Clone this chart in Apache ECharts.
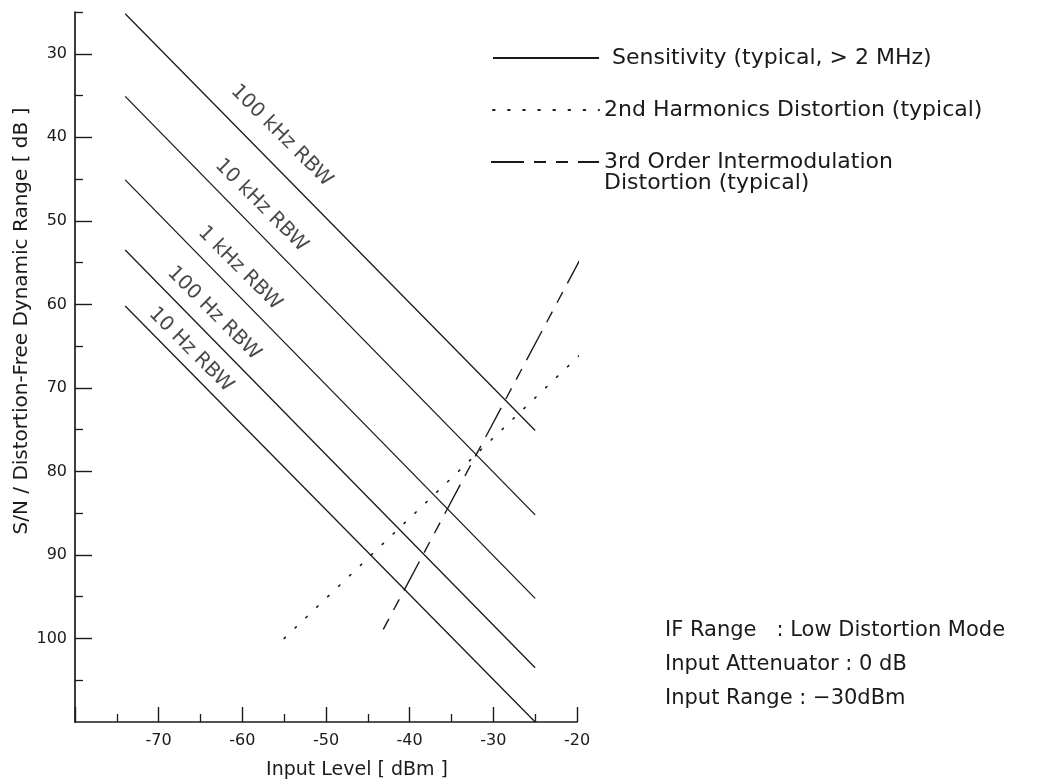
<!DOCTYPE html>
<html>
<head>
<meta charset="utf-8">
<script src="https://cdn.jsdelivr.net/npm/echarts@6/dist/echarts.min.js"></script>
<style>
html,body{margin:0;padding:0;background:#fff;}
#chart{width:1050px;height:781px;}
</style>
</head>
<body>
<div id="chart"></div>
<script>
// ---------- data ----------
const xTickLabels = [-70, -60, -50, -40, -30, -20];
const yTickLabels = [30, 40, 50, 60, 70, 80, 90, 100];
const yMinorTicks = [25, 35, 45, 55, 65, 75, 85, 95, 105];

const rbwNames = ['100 kHz RBW', '10 kHz RBW', '1 kHz RBW', '100 Hz RBW', '10 Hz RBW'];
const sensX = [-74, -25];
const sens100kHz = [25.2, 75.1];
const sens10kHz  = [35.1, 85.2];
const sens1kHz   = [45.1, 95.2];
const sens100Hz  = [53.5, 103.5];
const sens10Hz   = [60.2, 110];
const rbwLabelX  = [-57.5, -59.5, -62, -65, -67.5];

const harm2X = [-55, -19.6];
const harm2Y = [100, 66];

const im3X = [-19.3, -43.2];
const im3Y = [54, 99];

const legendNames = [
  'Sensitivity (typical, > 2 MHz)',
  '2nd Harmonics Distortion (typical)',
  '3rd Order Intermodulation\nDistortion (typical)'
];
const noteLines = [
  'IF Range   : Low Distortion Mode',
  'Input Attenuator : 0 dB',
  'Input Range : \u221230dBm'
];

// ---------- build ----------
const FONT = 'DejaVu Sans';
const INK = '#1a1a1a';
const sensSets = [sens100kHz, sens10kHz, sens1kHz, sens100Hz, sens10Hz];
const labelGap = [-26, -21, -20, -19, -16];

function pairs(xs, ys) { return xs.map((x, i) => [x, ys[i]]); }

const series = [];
sensSets.forEach((ys, i) => {
  series.push({
    name: legendNames[0],
    type: 'line',
    data: pairs(sensX, ys),
    symbol: 'none',
    clip: false,
    silent: true,
    lineStyle: { color: INK, width: 1.3, type: 'solid' },
    itemStyle: { color: INK },
    z: 3
  });
  // label anchor on the line
  const lx = rbwLabelX[i];
  const t = (lx - sensX[0]) / (sensX[1] - sensX[0]);
  const ly = ys[0] + t * (ys[1] - ys[0]);
  series.push({
    type: 'scatter',
    data: [[lx, ly]],
    symbolSize: 0,
    silent: true,
    label: {
      show: true,
      formatter: rbwNames[i],
      position: 'inside',
      rotate: -45,
      offset: [0, labelGap[i]],
      fontFamily: FONT,
      fontSize: 20,
      color: INK
    },
    z: 4
  });
});

series.push({
  name: legendNames[1],
  type: 'line',
  data: pairs(harm2X, harm2Y),
  symbol: 'none',
  clip: false,
  silent: true,
  lineStyle: { color: INK, width: 1.6, type: [1.6, 13.5], cap: 'round' },
  itemStyle: { color: INK },
  z: 3
});
series.push({
  name: legendNames[2],
  type: 'line',
  data: pairs(im3X, im3Y),
  symbol: 'none',
  clip: false,
  silent: true,
  lineStyle: { color: INK, width: 1.4, type: [33, 10, 12, 10, 12, 10] },
  itemStyle: { color: INK },
  z: 3
});

const legendBase = {
  orient: 'vertical',
  padding: 0,
  itemWidth: 106,
  itemHeight: 14,
  selectedMode: false,
  itemStyle: { opacity: 0 },
  textStyle: { fontFamily: FONT, fontSize: 22, color: INK, lineHeight: 22 }
};

const option = {
  backgroundColor: '#ffffff',
  animation: false,
  grid: { left: 75, right: 473, top: 12, bottom: 59, containLabel: false, outerBoundsMode: 'none' },
  legend: [
    Object.assign({}, legendBase, {
      left: 492, top: 47,
      data: [legendNames[0]],
      textStyle: Object.assign({}, legendBase.textStyle, { padding: [0, 0, 0, 8] })
    }),
    Object.assign({}, legendBase, {
      left: 492, top: 99,
      data: [legendNames[1]]
    }),
    Object.assign({}, legendBase, {
      left: 490, top: 130,
      itemWidth: 108,
      data: [legendNames[2]],
      formatter: n => '\n' + n,
      textStyle: Object.assign({}, legendBase.textStyle, { lineHeight: 21 })
    })
  ],
  xAxis: {
    type: 'value',
    min: -80,
    max: -20,
    interval: 10,
    name: 'Input Level [ dBm ]',
    nameLocation: 'middle',
    nameGap: 39,
    nameTextStyle: { fontFamily: FONT, fontSize: 19, color: INK, padding: [0, 0, 0, 62] },
    axisLine: { show: true, onZero: false, lineStyle: { color: INK, width: 1.7 } },
    axisTick: { show: true, inside: true, length: 15, lineStyle: { color: INK, width: 1.4 } },
    minorTick: { show: true, splitNumber: 2, length: 8, lineStyle: { color: INK, width: 1.3 } },
    splitLine: { show: false },
    axisLabel: {
      fontFamily: FONT, fontSize: 16, color: INK, margin: 11,
      customValues: xTickLabels,
      formatter: v => String(v)
    }
  },
  yAxis: [
    {
      type: 'value',
      inverse: true,
      min: 25,
      max: 110,
      name: 'S/N / Distortion-Free Dynamic Range [ dB ]',
      nameLocation: 'middle',
      nameGap: 43,
      nameTextStyle: { fontFamily: FONT, fontSize: 20, color: INK, padding: [0, 0, 0, 92] },
      axisLine: { show: true, onZero: false, lineStyle: { color: INK, width: 1.7 } },
      axisTick: { show: true, inside: true, length: 17, customValues: yTickLabels, lineStyle: { color: INK, width: 1.4 } },
      splitLine: { show: false },
      axisLabel: { fontFamily: FONT, fontSize: 16, color: INK, margin: 8, customValues: yTickLabels }
    },
    {
      type: 'value',
      inverse: true,
      min: 25,
      max: 110,
      position: 'left',
      axisLine: { show: false },
      axisTick: { show: true, inside: true, length: 8, customValues: yMinorTicks, lineStyle: { color: INK, width: 1.3 } },
      splitLine: { show: false },
      axisLabel: { show: false }
    }
  ],
  graphic: [
    {
      type: 'text',
      left: 665,
      top: 614,
      silent: true,
      style: {
        text: noteLines.join('\n'),
        fontFamily: FONT,
        fontSize: 21,
        lineHeight: 34,
        fill: INK
      }
    }
  ],
  series: series
};

const chart = echarts.init(document.getElementById('chart'), null, { renderer: 'canvas' });
chart.setOption(option);
</script>
</body>
</html>
